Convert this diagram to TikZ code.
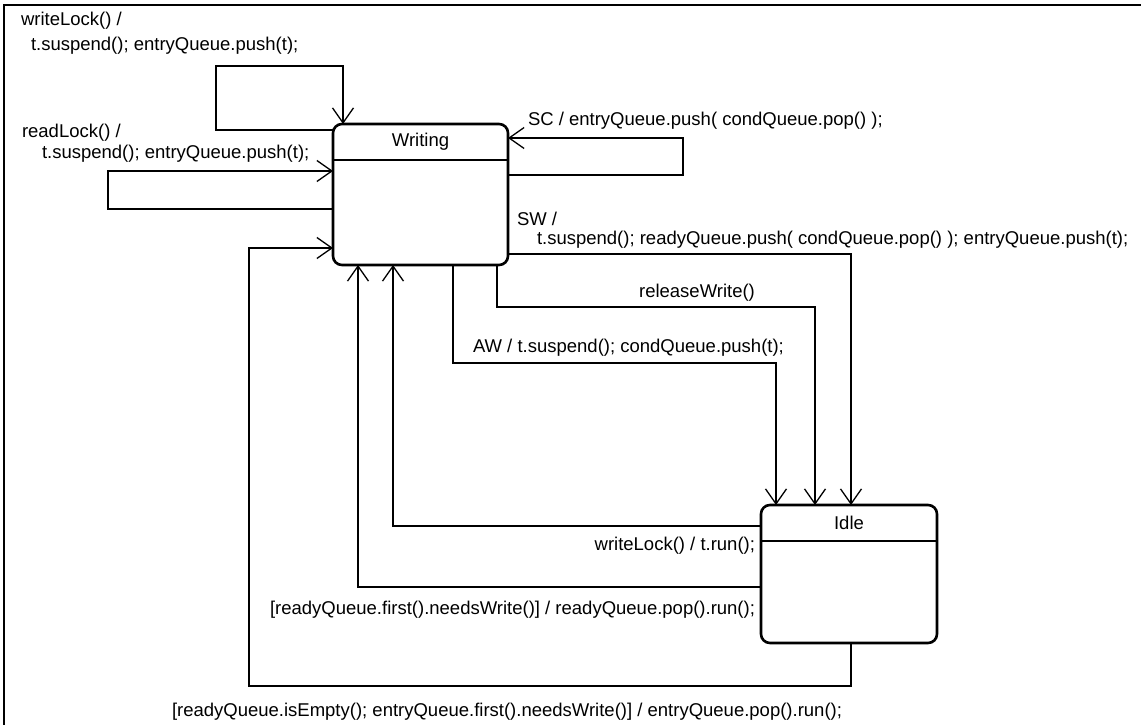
\documentclass[tikz,border=0pt]{standalone}
\usepackage{fontspec}
\setmainfont{Liberation Sans}
\usetikzlibrary{arrows.meta}
\begin{document}
\begin{tikzpicture}[x=1pt,y=-1pt,
  font=\fontsize{18.5}{22}\selectfont,
  statebox/.style={draw, line width=2.6pt, rounded corners=9pt, inner sep=0pt, outer sep=0pt},
  divider/.style={line width=1.3pt},
  tr/.style={line width=1.3pt, -{Straight Barb[length=15pt,width=21pt,line width=1.3pt]}},
  lbl/.style={inner sep=0pt, outer sep=0pt}]
\useasboundingbox (0,0) rectangle (1141,725);

% frame
\draw[line width=1.5pt] (4,725) -- (4,5) -- (1141,5);

% states
\node[statebox, minimum width=175pt, minimum height=141pt] (writing) at (420.5,194.5) {};
\node[lbl] (writingname) at (420.5,142) {Writing};
\draw[divider] ([yshift=-36pt]writing.north west) -- ([yshift=-36pt]writing.north east);

\node[statebox, minimum width=176pt, minimum height=138pt] (idle) at (849,574) {};
\node[lbl] (idlename) at (849,523) {Idle};
\draw[divider] ([yshift=-36pt]idle.north west) -- ([yshift=-36pt]idle.north east);

% bend points
\coordinate (wl1) at (216,130);
\coordinate (wl2) at (216,66);
\coordinate (wl3) at (343,66);
\coordinate (rl1) at (108,209);
\coordinate (rl2) at (108,171);
\coordinate (sc1) at (683,175);
\coordinate (sc2) at (683,138);
\coordinate (sw1) at (851,254);
\coordinate (rw0) at (497,265);
\coordinate (rw1) at (497,307);
\coordinate (rw2) at (815,307);
\coordinate (aw0) at (453,265);
\coordinate (aw1) at (453,363);
\coordinate (aw2) at (776,363);
\coordinate (wr1) at (393,526);
\coordinate (rq1) at (358,587);
\coordinate (eq0) at (851,643);
\coordinate (eq1) at (851,686);
\coordinate (eq2) at (249,686);
\coordinate (eq3) at (249,248);

% transitions
\draw[tr] (writing.west |- wl1) -- (wl1) -- (wl2) -- (wl3) -- (wl3 |- writing.north);
\draw[tr] (writing.west |- rl1) -- (rl1) -- (rl2) -- (rl2 -| writing.west);
\draw[tr] (writing.east |- sc1) -- (sc1) -- (sc2) -- (sc2 -| writing.east);
\draw[tr] (writing.east |- sw1) -- (sw1) -- (sw1 |- idle.north);
\draw[tr] (rw0 |- writing.south) -- (rw1) -- (rw2) -- (rw2 |- idle.north);
\draw[tr] (aw0 |- writing.south) -- (aw1) -- (aw2) -- (aw2 |- idle.north);
\draw[tr] (idle.west |- wr1) -- (wr1) -- (wr1 |- writing.south);
\draw[tr] (idle.west |- rq1) -- (rq1) -- (rq1 |- writing.south);
\draw[tr] (eq0 |- idle.south) -- (eq1) -- (eq2) -- (eq3) -- (eq3 -| writing.west);

% transition labels
\node[lbl, anchor=west] (t1a) at (21,21) {writeLock() /};
\node[lbl, anchor=west] (t1b) at (31,46) {t.suspend(); entryQueue.push(t);};
\node[lbl, anchor=west] (t2a) at (22,133) {readLock() /};
\node[lbl, anchor=west] (t2b) at (42,154) {t.suspend(); entryQueue.push(t);};
\node[lbl, anchor=west] (t3) at (528,121) {SC / entryQueue.push( condQueue.pop() );};
\node[lbl, anchor=west] (t4a) at (517,219) {SW /};
\node[lbl, anchor=west] (t4b) at (537,240) {t.suspend(); readyQueue.push( condQueue.pop() ); entryQueue.push(t);};
\node[lbl] (t5) at (697,293) {releaseWrite()};
\node[lbl, anchor=west] (t6) at (473,348) {AW / t.suspend(); condQueue.push(t);};
\node[lbl, anchor=east] (t7) at (755,546) {writeLock() / t.run();};
\node[lbl, anchor=east] (t8) at (755,610) {[readyQueue.first().needsWrite()] / readyQueue.pop().run();};
\node[lbl, anchor=west] (t9) at (172,712) {[readyQueue.isEmpty(); entryQueue.first().needsWrite()] / entryQueue.pop().run();};
\end{tikzpicture}
\end{document}
